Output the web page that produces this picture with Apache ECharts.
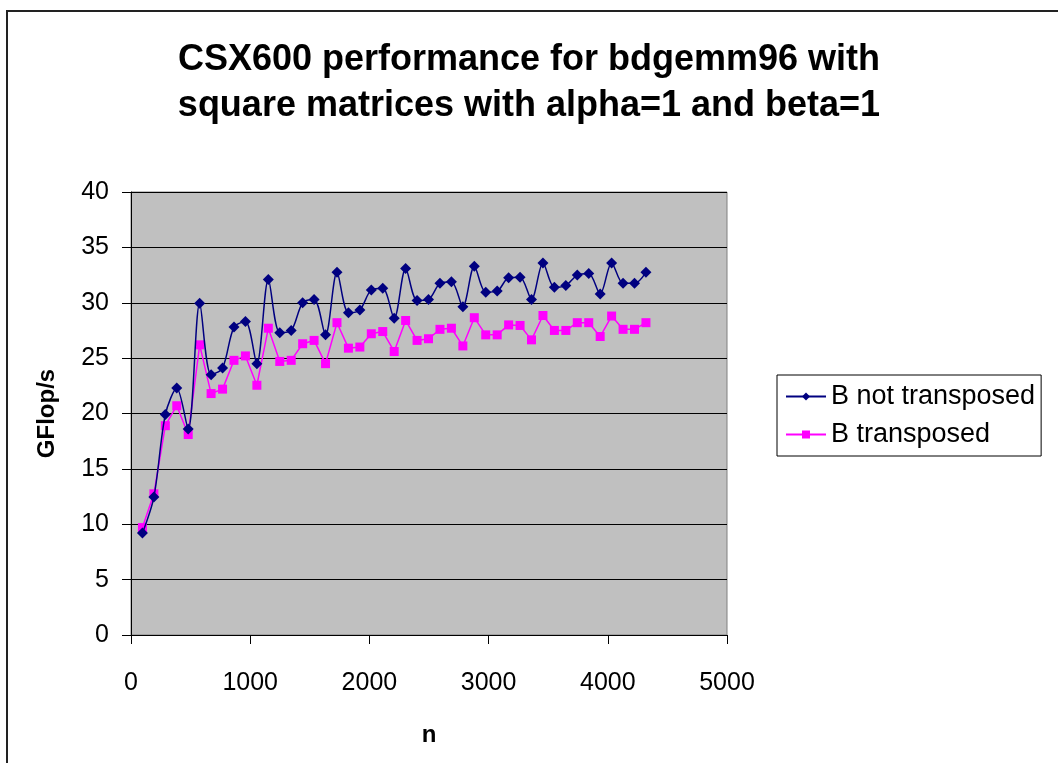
<!DOCTYPE html>
<html>
<head>
<meta charset="utf-8">
<script src="https://cdn.jsdelivr.net/npm/echarts@6/dist/echarts.min.js"></script>
<style>
  html, body { margin: 0; padding: 0; background: #fff; }
  #main { width: 1058px; height: 763px; }
</style>
</head>
<body>
<div id="main"></div>
<script>
// 矩阵规模 n
const sizes = [96, 192, 288, 384, 480, 576, 672, 768, 864, 960,
  1056, 1152, 1248, 1344, 1440, 1536, 1632, 1728, 1824, 1920,
  2016, 2112, 2208, 2304, 2400, 2496, 2592, 2688, 2784, 2880,
  2976, 3072, 3168, 3264, 3360, 3456, 3552, 3648, 3744, 3840,
  3936, 4032, 4128, 4224, 4320]

// B not transposed
const notTransposed = [9.2, 12.45, 19.9, 22.3, 18.6, 29.95, 23.5, 24.1, 27.8, 28.3,
  24.5, 32.1, 27.3, 27.5, 30.0, 30.3, 27.1, 32.75, 29.1, 29.35,
  31.15, 31.3, 28.6, 33.1, 30.2, 30.3, 31.75, 31.9, 29.65, 33.3,
  30.95, 31.05, 32.25, 32.3, 30.3, 33.6, 31.4, 31.55, 32.5, 32.65,
  30.8, 33.6, 31.75, 31.75, 32.75]

// B transposed
const transposed = [9.7, 12.75, 18.9, 20.7, 18.1, 26.2, 21.8, 22.2, 24.8, 25.2,
  22.55, 27.7, 24.7, 24.8, 26.3, 26.6, 24.5, 28.2, 25.9, 26.0,
  27.2, 27.4, 25.6, 28.4, 26.6, 26.75, 27.6, 27.7, 26.1, 28.65,
  27.1, 27.1, 28.0, 27.95, 26.65, 28.85, 27.5, 27.5, 28.2, 28.2,
  26.95, 28.8, 27.6, 27.6, 28.2]

const font = 'Liberation Sans, Arial, sans-serif'

const myChart = echarts.init(document.querySelector('#main'))
const option = {
    animation: false,
    backgroundColor: '#fff',
    textStyle: { fontFamily: font },
    title: {
        text: 'CSX600 performance for bdgemm96 with\nsquare matrices with alpha=1 and beta=1',
        left: 'center',
        top: 32,
        textStyle: {
            fontSize: 36,
            fontWeight: 'bold',
            color: '#000',
            lineHeight: 46,
            fontFamily: font
        }
    },
    graphic: [{
        type: 'rect',
        shape: { x: 7, y: 11, width: 1200, height: 900 },
        style: { fill: 'none', stroke: '#222', lineWidth: 2 },
        silent: true
    }],
    legend: {
        left: 777,
        top: 375,
        orient: 'vertical',
        backgroundColor: '#fff',
        borderColor: '#000',
        borderWidth: 1,
        borderRadius: 0,
        padding: [8, 6, 8, 8],
        itemGap: 11,
        itemWidth: 40,
        itemHeight: 10,
        textStyle: { fontSize: 27, color: '#000', fontFamily: font }
    },
    grid: {
        left: 131,
        top: 192,
        width: 596,
        height: 443,
        show: true,
        backgroundColor: '#c0c0c0',
        borderColor: '#808080',
        borderWidth: 1
    },
    xAxis: {
        type: 'value',
        min: 0,
        max: 5000,
        interval: 1000,
        name: 'n',
        nameLocation: 'middle',
        nameGap: 88,
        nameTextStyle: { fontSize: 24, fontWeight: 'bold', color: '#000' },
        axisLine: { show: true, lineStyle: { color: '#000', width: 1 } },
        axisTick: { show: true, inside: false, length: 9, lineStyle: { color: '#000' } },
        axisLabel: { fontSize: 25, color: '#000', margin: 36, formatter: v => String(v) },
        splitLine: { show: false }
    },
    yAxis: {
        type: 'value',
        min: 0,
        max: 40,
        interval: 5,
        name: 'GFlop/s',
        nameLocation: 'middle',
        nameGap: 72,
        nameTextStyle: { fontSize: 24, fontWeight: 'bold', color: '#000' },
        axisLine: { show: true, lineStyle: { color: '#000', width: 1 } },
        axisTick: { show: true, inside: false, length: 9, lineStyle: { color: '#000' } },
        axisLabel: { fontSize: 25, color: '#000', margin: 22 },
        splitLine: { show: true, lineStyle: { color: '#000', width: 1 } }
    },
    series: [
        {
            name: 'B not transposed',
            type: 'line',
            smooth: 0.3,
            data: sizes.map((n, i) => [n, notTransposed[i]]),
            symbol: 'diamond',
            symbolSize: 11,
            lineStyle: { color: '#000080', width: 1.5 },
            itemStyle: { color: '#000080' },
            z: 3
        },
        {
            name: 'B transposed',
            type: 'line',
            data: sizes.map((n, i) => [n, transposed[i]]),
            symbol: 'rect',
            symbolSize: 9,
            lineStyle: { color: '#ff00ff', width: 1.5 },
            itemStyle: { color: '#ff00ff' },
            z: 2
        }
    ]
}
myChart.setOption(option)
</script>
</body>
</html>
